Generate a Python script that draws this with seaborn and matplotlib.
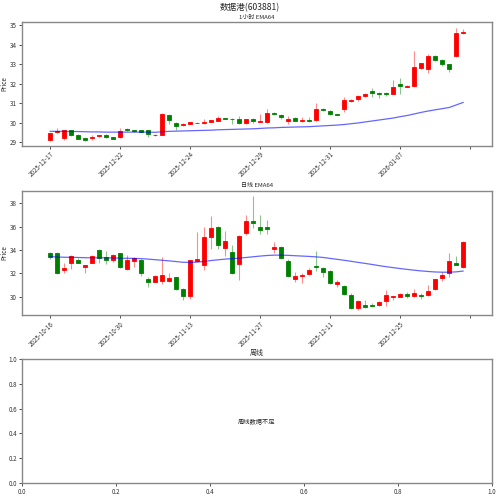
import numpy as np
import pandas as pd
import seaborn as sns
import matplotlib
matplotlib.use("Agg")
import matplotlib.pyplot as plt

# ---- 1 hour candles (60 bars) ----
h_open = [29.12, 29.55, 29.22, 29.63, 29.38, 29.22, 29.22, 29.33, 29.36, 29.27,
          29.26, 29.68, 29.64, 29.62, 29.62, 29.40, 29.40, 30.42, 30.00, 29.88,
          29.97, 30.00, 29.98, 30.07, 30.12, 30.25, 30.22, 30.20, 30.00, 30.20,
          30.06, 30.07, 30.50, 30.42, 30.10, 30.25, 30.10, 30.15, 30.16, 30.73,
          30.62, 30.45, 30.70, 31.12, 31.20, 31.38, 31.62, 31.55, 31.52, 31.50,
          31.97, 31.85, 31.87, 32.80, 32.75, 33.42, 33.22, 33.00, 33.40, 34.60]
h_close = [29.49, 29.60, 29.63, 29.40, 29.20, 29.12, 29.30, 29.37, 29.28, 29.20,
           29.60, 29.65, 29.60, 29.56, 29.45, 29.36, 30.45, 30.15, 29.85, 29.97,
           30.03, 30.02, 30.06, 30.13, 30.27, 30.22, 30.20, 30.00, 30.20, 30.08,
           30.10, 30.53, 30.45, 30.30, 30.20, 30.12, 30.15, 30.10, 30.73, 30.65,
           30.45, 30.42, 31.17, 31.18, 31.38, 31.50, 31.55, 31.50, 31.50, 31.85,
           31.87, 31.90, 32.85, 33.05, 33.42, 33.20, 33.00, 32.75, 34.60, 34.67]
h_high = [29.50, 29.72, 29.66, 29.66, 29.45, 29.25, 29.38, 29.40, 29.42, 29.28,
          29.75, 29.72, 29.65, 29.65, 29.65, 29.45, 30.50, 30.45, 30.05, 30.00,
          30.07, 30.05, 30.20, 30.15, 30.35, 30.26, 30.23, 30.35, 30.22, 30.25,
          30.45, 30.70, 30.55, 30.45, 30.35, 30.30, 30.30, 30.30, 31.00, 30.78,
          30.68, 30.46, 31.35, 31.20, 31.45, 31.55, 31.78, 31.60, 31.60, 32.20,
          32.28, 31.95, 33.68, 33.08, 33.52, 33.45, 33.25, 33.02, 34.85, 34.80]
h_low = [29.08, 29.50, 29.15, 29.35, 29.17, 29.10, 29.12, 29.30, 29.25, 29.17,
         29.22, 29.60, 29.55, 29.52, 29.30, 29.33, 29.37, 29.95, 29.65, 29.85,
         29.95, 29.98, 29.93, 30.05, 30.08, 30.20, 29.95, 29.95, 29.95, 29.98,
         30.05, 30.02, 30.42, 30.20, 29.92, 30.10, 30.05, 30.05, 30.10, 30.60,
         30.42, 30.38, 30.55, 31.05, 31.12, 31.35, 31.35, 31.28, 31.40, 31.48,
         31.50, 31.85, 31.85, 32.78, 32.55, 33.15, 32.90, 32.60, 33.38, 34.55]
h_ema = [29.57, 29.57, 29.57, 29.56, 29.56, 29.55, 29.54, 29.54, 29.53, 29.53,
         29.53, 29.53, 29.53, 29.53, 29.53, 29.52, 29.55, 29.57, 29.58, 29.59,
         29.60, 29.61, 29.62, 29.63, 29.65, 29.66, 29.67, 29.68, 29.69, 29.70,
         29.72, 29.74, 29.75, 29.77, 29.78, 29.79, 29.80, 29.81, 29.83, 29.85,
         29.87, 29.89, 29.92, 29.96, 30.00, 30.05, 30.10, 30.15, 30.20, 30.25,
         30.32, 30.38, 30.46, 30.54, 30.61, 30.67, 30.73, 30.79, 30.92, 31.05]
h_tick_labels = ["2025-12-17", "2025-12-22", "2025-12-24", "2025-12-29",
                 "2025-12-31", "2026-01-07", ""]

# ---- daily candles (60 bars) ----
d_open = [33.70, 33.77, 32.31, 32.86, 33.12, 32.57, 32.91, 34.00, 33.37, 33.17,
          33.72, 32.35, 33.06, 33.14, 31.49, 31.29, 31.35, 31.37, 31.66, 30.69,
          30.06, 33.10, 32.70, 35.07, 36.00, 34.20, 33.85, 32.80, 35.48, 36.46,
          36.00, 35.95, 34.06, 34.23, 33.06, 31.49, 31.80, 31.95, 32.63, 32.49,
          32.20, 31.09, 30.92, 30.14, 29.06, 29.26, 29.31, 29.26, 29.60, 30.00,
          29.97, 30.20, 30.03, 30.15, 30.17, 30.66, 31.57, 32.00, 32.85, 32.57]
d_close = [33.40, 32.00, 32.49, 33.49, 32.89, 32.72, 33.49, 33.34, 33.17, 33.57,
           32.57, 33.14, 33.34, 32.06, 31.29, 31.77, 31.83, 31.57, 30.69, 30.06,
           33.14, 33.25, 35.10, 35.85, 34.43, 34.77, 32.00, 35.20, 36.48, 36.29,
           35.72, 35.80, 34.23, 33.29, 31.77, 31.77, 31.86, 32.29, 32.52, 32.09,
           31.15, 31.29, 30.23, 29.00, 29.63, 29.09, 29.17, 29.55, 30.12, 30.06,
           30.23, 30.03, 30.29, 30.10, 30.49, 31.49, 31.86, 33.08, 32.74, 34.66]
d_high = [33.85, 33.80, 32.90, 33.60, 33.29, 32.75, 33.55, 34.05, 33.94, 33.62,
          33.75, 33.57, 33.38, 33.20, 31.70, 31.85, 33.43, 32.06, 31.70, 30.75,
          33.18, 35.50, 36.00, 36.95, 36.05, 35.60, 34.45, 35.25, 37.00, 38.63,
          37.00, 36.57, 34.66, 34.30, 33.20, 32.09, 32.00, 32.45, 33.94, 32.55,
          32.25, 31.40, 31.00, 30.30, 29.75, 29.72, 29.50, 29.62, 30.57, 30.10,
          30.30, 30.40, 30.66, 30.35, 31.00, 31.55, 32.14, 33.72, 33.51, 34.80]
d_low = [33.20, 31.95, 32.00, 32.40, 32.85, 32.00, 32.85, 32.91, 32.77, 33.00,
         32.50, 32.30, 32.52, 31.80, 30.80, 31.25, 31.09, 31.30, 30.60, 29.72,
         29.85, 33.05, 32.30, 34.10, 34.05, 33.50, 31.95, 31.45, 35.25, 35.86,
         35.35, 35.40, 33.72, 33.25, 31.70, 31.30, 31.15, 31.90, 32.20, 31.66,
         31.10, 30.86, 30.15, 28.92, 28.90, 29.05, 29.10, 29.20, 29.20, 29.70,
         29.95, 29.90, 29.95, 29.85, 30.10, 30.60, 31.35, 31.70, 32.70, 32.50]
d_ema = [33.43, 33.40, 33.38, 33.37, 33.36, 33.34, 33.33, 33.33, 33.33, 33.32,
         33.30, 33.29, 33.28, 33.26, 33.22, 33.17, 33.12, 33.07, 33.01, 32.95,
         32.94, 32.96, 33.02, 33.10, 33.16, 33.22, 33.26, 33.30, 33.36, 33.42,
         33.48, 33.53, 33.56, 33.56, 33.54, 33.51, 33.48, 33.45, 33.41, 33.36,
         33.28, 33.20, 33.12, 33.03, 32.94, 32.85, 32.76, 32.66, 32.57, 32.49,
         32.41, 32.34, 32.27, 32.21, 32.16, 32.12, 32.10, 32.10, 32.13, 32.20]
d_tick_labels = ["2025-10-16", "2025-10-30", "2025-11-13", "2025-11-27",
                 "2025-12-11", "2025-12-25", ""]

sns.set_style("white")
plt.rcParams['font.family'] = ['Noto Sans CJK SC', 'DejaVu Sans']
plt.rcParams['axes.unicode_minus'] = False

UP = '#ff0000'
DOWN = '#008000'
SPINE = '#888888'


def style_axes(ax):
    for s in ax.spines.values():
        s.set_color(SPINE)
        s.set_linewidth(1.0)
    ax.tick_params(axis='both', labelsize=4.5, length=2, width=0.6,
                   colors='#333333', pad=1.5, bottom=True, left=True)


def candles(ax, o, h, l, c, ema, labels, title, ylim, yticks):
    df = pd.DataFrame({'open': o, 'high': h, 'low': l, 'close': c, 'ema': ema})
    df['idx'] = np.arange(len(df))
    up = df['close'] >= df['open']
    colors = np.where(up, UP, DOWN)
    ax.vlines(df['idx'], df['low'], df['high'], colors=colors,
              linewidth=0.8, alpha=0.45, zorder=1)
    bottom = df[['open', 'close']].min(axis=1)
    height = (df['close'] - df['open']).abs()
    ax.bar(df['idx'], height, bottom=bottom, width=0.6, color=colors,
           edgecolor=colors, linewidth=0.6, zorder=2)
    sns.lineplot(data=df, x='idx', y='ema', ax=ax, color='blue',
                 alpha=0.6, linewidth=0.9, zorder=3)
    ax.set_xlim(-4, 63.1)
    ax.set_ylim(*ylim)
    ax.set_yticks(yticks)
    ax.set_xticks(np.arange(0, 61, 10))
    ax.set_xticklabels(labels, rotation=45, ha='right', rotation_mode='anchor')
    ax.set_xlabel('')
    ax.set_ylabel('Price', fontsize=4.5, labelpad=1)
    ax.set_title(title, fontsize=4.3, pad=2.5)
    style_axes(ax)


fig = plt.figure(figsize=(5, 4.97), dpi=100)
fig.suptitle('数据港(603881)', fontsize=6.2, y=0.993)

ax1 = fig.add_axes([0.044, 0.707, 0.940, 0.248])
candles(ax1, h_open, h_high, h_low, h_close, h_ema, h_tick_labels,
        '1小时 EMA64', (28.84, 35.14), np.arange(29, 36, 1))

ax2 = fig.add_axes([0.044, 0.366, 0.940, 0.250])
candles(ax2, d_open, d_high, d_low, d_close, d_ema, d_tick_labels,
        '日线 EMA64', (28.43, 39.06), np.arange(30, 39, 2))

ax3 = fig.add_axes([0.044, 0.028, 0.940, 0.250])
ax3.set_xlim(0, 1)
ax3.set_ylim(0, 1)
ax3.text(0.5, 0.5, '周线数据不足', ha='center', va='center', fontsize=4.5,
         transform=ax3.transAxes)
ax3.set_title('周线', fontsize=5, pad=2.5)
style_axes(ax3)

fig.savefig('out.png', dpi=100)
